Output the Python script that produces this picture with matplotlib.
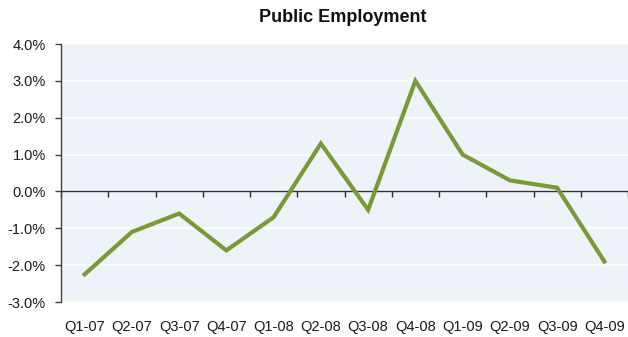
import matplotlib
matplotlib.use("Agg")
import matplotlib.pyplot as plt
from matplotlib.ticker import FuncFormatter, FixedLocator

quarters = ["Q1-07", "Q2-07", "Q3-07", "Q4-07", "Q1-08", "Q2-08",
            "Q3-08", "Q4-08", "Q1-09", "Q2-09", "Q3-09", "Q4-09"]
growth_pct = [-2.25, -1.1, -0.6, -1.6, -0.7, 1.3,
              -0.5, 3.0, 1.0, 0.3, 0.1, -1.9]
y_ticks = [-3, -2, -1, 0, 1, 2, 3, 4]

plt.rcParams["font.family"] = ["Liberation Sans", "DejaVu Sans"]

fig = plt.figure(figsize=(6.28, 3.37), dpi=100)
ax = fig.add_axes([61 / 628, 1 - 302 / 337, 1 - 61 / 628, (302 - 44) / 337])
ax.set_facecolor("#EEF2F9")

x = list(range(len(quarters)))
ax.plot(x, growth_pct, color="#7A9A3A", lw=3.0, solid_joinstyle="miter", zorder=4)

ax.set_xlim(-0.5, len(quarters) - 0.5)
ax.set_ylim(y_ticks[0], y_ticks[-1])
ax.set_yticks(y_ticks)
ax.yaxis.set_major_formatter(FuncFormatter(lambda v, p: f"{v:.1f}%"))
ax.grid(axis="y", color="white", lw=1.2, zorder=1)
ax.set_axisbelow(True)
ax.tick_params(axis="y", direction="out", length=4, width=1, color="#404040",
               pad=7, labelsize=10.5, labelcolor="#1a1a1a")

ax.set_xticks(x)
ax.set_xticklabels(quarters)
ax.tick_params(axis="x", length=0, pad=13, labelsize=10.5, labelcolor="#1a1a1a")

for side in ("top", "right", "bottom"):
    ax.spines[side].set_visible(False)
ax.spines["left"].set_color("#404040")
ax.spines["left"].set_linewidth(1)

# category axis through zero, with tick marks on the category boundaries
ax.axhline(0, color="#303030", lw=1, zorder=3)
zero_frac = (0 - y_ticks[0]) / (y_ticks[-1] - y_ticks[0])
sec = ax.secondary_xaxis(zero_frac)
sec.xaxis.set_major_locator(FixedLocator([i - 0.5 for i in range(len(quarters) + 1)]))
sec.xaxis.set_ticks_position("bottom")
sec.tick_params(axis="x", direction="out", length=4, width=1, color="#303030",
                labelbottom=False, labeltop=False)
for side in ("top", "bottom"):
    sec.spines[side].set_visible(False)

fig.text(343 / 628, 1 - 17 / 337, "Public Employment", ha="center", va="center",
         fontsize=13, fontweight="bold", color="#111111")

fig.savefig("out.png", dpi=100)
